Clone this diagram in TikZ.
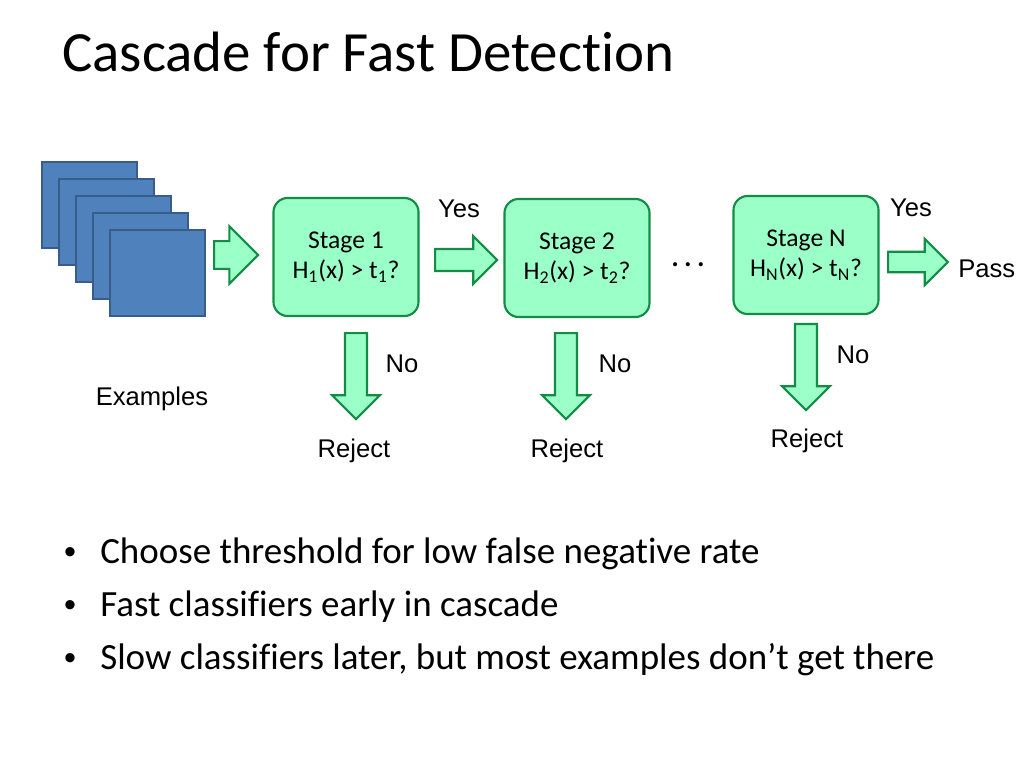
\documentclass[tikz,border=0pt]{standalone}
\usepackage{fontspec}
\setmainfont{Carlito}[Ligatures=NoCommon]
\newfontfamily\labelfont{Liberation Sans}
\usetikzlibrary{shapes.arrows, positioning}
\definecolor{StageGreen}{RGB}{155,255,200}
\definecolor{EdgeGreen}{RGB}{20,140,70}
\definecolor{SlideBlue}{RGB}{79,129,189}
\definecolor{DarkBlue}{RGB}{56,93,138}

\begin{document}
\begin{tikzpicture}[
          x=0.703125pt, y=-0.703125pt,
          stage/.style={rectangle, rounded corners=10pt, draw=EdgeGreen, fill=StageGreen, line width=1.5pt, minimum width=102pt, minimum height=83pt, inner sep=0pt, align=center, font=\fontsize{18}{21.6}\selectfont},
          example/.style={rectangle, draw=DarkBlue, fill=SlideBlue, line width=1.3pt, minimum width=66.8pt, minimum height=60.5pt, inner sep=0pt},
          blockarrow/.style={single arrow, draw=EdgeGreen, fill=StageGreen, line width=1.5pt, inner xsep=0pt, inner ysep=7pt, single arrow head extend=9pt, anchor=tail},
          answer/.style={anchor=base, inner sep=0pt, font=\labelfont\fontsize{18}{21.6}\selectfont},
          bullet/.style={anchor=base west, inner sep=0pt, font=\fontsize{26}{31}\selectfont}
        ]
          \fill[white] (0,0) rectangle (1024,768);
          \useasboundingbox (0,0) rectangle (1024,768);
          % title
          \node (title) [anchor=base west, inner sep=0pt, font=\fontsize{40}{48}\selectfont] at (62,72) {Cascade for Fast Detection};
          % stack of examples
          \foreach \i in {0,...,4}
            \node (ex\i) [example] at (89.5+17*\i, 205+17*\i) {};
          \node (examples) [answer] at (152,405) {Examples};
          \node (feed) [blockarrow, inner ysep=9pt, single arrow head extend=10.5pt, minimum height=31pt] at (213,255) {};
          % stages
          \node (stage1) [stage] at (346,257) {Stage 1\\H\textsubscript{1}(x) > t\textsubscript{1}?};
          \node (stage2) [stage] at (577,258) {Stage 2\\H\textsubscript{2}(x) > t\textsubscript{2}?};
          \node (stageN) [stage] at (806,255) {Stage N\\H\textsubscript{N}(x) > t\textsubscript{N}?};
          \node (dots) [anchor=base, inner sep=0pt, font=\fontsize{24}{28}\selectfont] at (688,267) {.\hspace{3pt}.\hspace{3pt}.};
          % yes arrows
          \node (yes1) [blockarrow, minimum height=43.6pt] at (434,260) {};
          \node [answer] at (459,218) {Yes};
          \node (yesN) [blockarrow, inner ysep=6.5pt, minimum height=42pt] at (887,262) {};
          \node [answer] at (911,217) {Yes};
          \node (pass) [answer, anchor=base west] at (958,278) {Pass};
          % no arrows
          \node (no1) [blockarrow, rotate=-90, minimum height=60.5pt] at (356,332) {};
          \node [answer] at (402,372) {No};
          \node (reject1) [answer] at (354,457) {Reject};
          \node (no2) [blockarrow, rotate=-90, minimum height=60.5pt] at (566,332) {};
          \node [answer] at (615,372) {No};
          \node (reject2) [answer] at (567,457) {Reject};
          \node (noN) [blockarrow, rotate=-90, minimum height=60.5pt] at (806,323) {};
          \node [answer] at (853,363) {No};
          \node (rejectN) [answer] at (807,447) {Reject};
          % bullets
          \foreach \y/\txt in {563/Choose threshold for low false negative rate, 616/Fast classifiers early in cascade, 669/Slow classifiers later{,} but most examples don’t get there} {
            \node [anchor=base, inner sep=0pt, font=\labelfont\fontsize{24}{28}\selectfont] at (70,\y) {\textbullet};
            \node [bullet] at (100,\y) {\txt};
          }
        \end{tikzpicture}
\end{document}
